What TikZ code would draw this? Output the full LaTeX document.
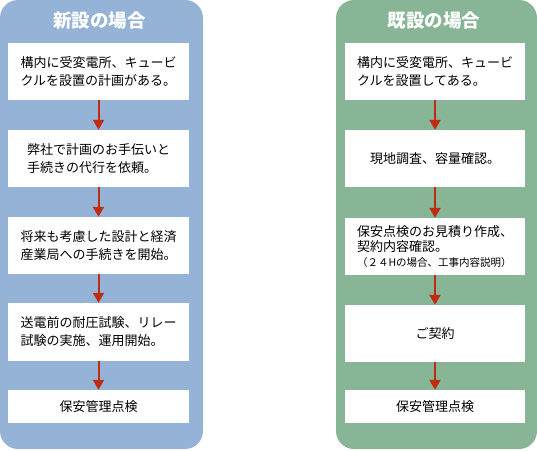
\documentclass[tikz,border=0pt]{standalone}
\usepackage{fontspec}
\newfontfamily\cjk{Noto Sans CJK JP}
\usetikzlibrary{arrows.meta}
\definecolor{panelblue}{RGB}{149,179,215}
\definecolor{panelgreen}{RGB}{135,181,150}
\definecolor{arrowred}{RGB}{190,45,15}
\tikzset{
  panel/.style={rounded corners=18pt, draw=none},
  stepbox/.style={fill=white, draw=none, inner sep=0pt, align=left, minimum height=57pt,
    font=\cjk\fontsize{13}{18}\selectfont},
  lbox/.style={stepbox, minimum width=181pt},
  rbox/.style={stepbox, minimum width=180pt},
  title/.style={text=white, font=\cjk\bfseries\fontsize{18.5}{20}\selectfont, inner sep=0pt},
  flow/.style={draw=arrowred, line width=2pt, -{Triangle[width=11pt,length=10pt]}}
}
\begin{document}
\begin{tikzpicture}[x=1pt,y=-1pt]
\useasboundingbox (0,0) rectangle (537,450);
\fill[panel, panelblue] (0,0) rectangle (203,449);
\fill[panel, panelgreen] (336,0) rectangle (537,449);
\node[title] (lt) at (99.5,21) {新設の場合};
\node[title] (rt) at (434,21) {既設の場合};
% left column
\node[lbox] (l1) at (98.5,71.5) {構内に受変電所、キュービ\\クルを設置の計画がある。};
\node[lbox] (l2) at (98.5,158.5) {弊社で計画のお手伝いと\\手続きの代行を依頼。};
\node[lbox] (l3) at (98.5,245.5) {将来も考慮した設計と経済\\産業局への手続きを開始。};
\node[lbox, minimum height=58pt] (l4) at (98.5,332) {送電前の耐圧試験、リレー\\試験の実施、運用開始。};
\node[lbox, minimum height=33pt] (l5) at (98.5,406.5) {保安管理点検};
% right column
\node[rbox] (r1) at (435,71.5) {構内に受変電所、キュービ\\クルを設置してある。};
\node[rbox] (r2) at (435,158.5) {現地調査、容量確認。};
\node[rbox, font=\cjk\fontsize{13}{15}\selectfont] (r3) at (435,246.5) {保安点検のお見積り作成、\\契約内容確認。\\{\fontsize{10.5}{15}\selectfont （２４Hの場合、工事内容説明）}};
\node[rbox] (r4) at (435,333.5) {ご契約};
\node[rbox, minimum height=33pt] (r5) at (435,406.5) {保安管理点検};
% arrows
\draw[flow] (l1.south) -- (l2.north);
\draw[flow] (l2.south) -- (l3.north);
\draw[flow] (l3.south) -- (l4.north);
\draw[flow] (l4.south) -- (l5.north);
\draw[flow] (r1.south) -- (r2.north);
\draw[flow] (r2.south) -- (r3.north);
\draw[flow] (r3.south) -- (r4.north);
\draw[flow] (r4.south) -- (r5.north);
\end{tikzpicture}
\end{document}
